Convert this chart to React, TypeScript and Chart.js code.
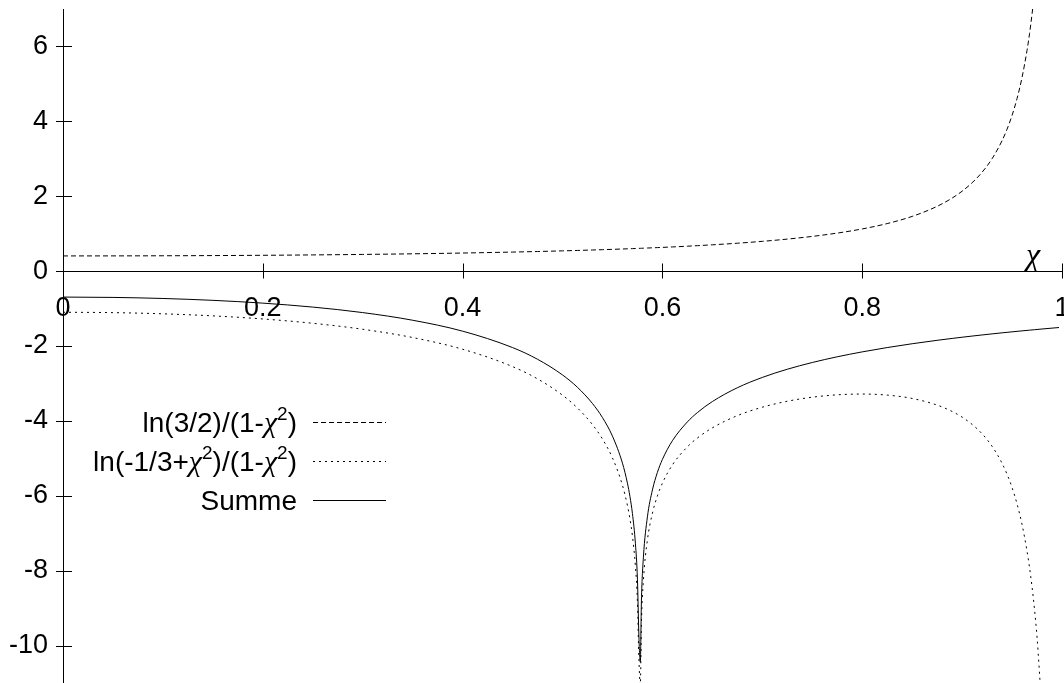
import React, { useEffect, useRef } from "react";
import { Chart, registerables } from "chart.js";

Chart.register(...registerables);

// chi values (x axis)
const xValues = [
  0, 0.05, 0.1, 0.15, 0.2, 0.25, 0.3, 0.35, 0.4, 0.45, 0.475, 0.5, 0.515, 0.53, 0.54, 0.55, 0.56,
  0.565, 0.5675, 0.57, 0.573, 0.575, 0.5765, 0.5779, 0.579, 0.581, 0.585, 0.59, 0.595, 0.6, 0.61,
  0.625, 0.635, 0.65, 0.675, 0.7, 0.725, 0.75, 0.775, 0.8, 0.825, 0.85, 0.875, 0.89, 0.9, 0.91, 0.92,
  0.93, 0.94, 0.945, 0.95, 0.955, 0.96, 0.965, 0.9675, 0.97, 0.9725, 0.975, 0.98, 0.99, 0.997,
];

// ln(3/2)/(1-chi^2)
const dashedValues = [
  0.4055, 0.4065, 0.4096, 0.4148, 0.4224, 0.4325, 0.4456, 0.4621, 0.4827, 0.5084, 0.5236, 0.5406,
  0.5518, 0.5639, 0.5724, 0.5813, 0.5907, 0.5956, 0.5981, 0.6006, 0.6037, 0.6057, 0.6073, 0.6088,
  0.6099, 0.6121, 0.6164, 0.622, 0.6277, 0.6335, 0.6457, 0.6654, 0.6794, 0.7021, 0.7448, 0.795,
  0.8547, 0.9268, 1.0152, 1.1263, 1.2696, 1.4611, 1.73, 1.9503, 2.134, 2.3587, 2.6397, 3.0012,
  3.4834, 3.7903, 4.1586, 4.6089, 5.1717, 5.8955, 6.341, 6.8607, 7.4749, 8.212, 10.239, null, null,
];

// ln(-1/3+chi^2)/(1-chi^2)
const dottedValues = [
  -1.0986, -1.1089, -1.1405, -1.1954, -1.2775, -1.3933, -1.5531, -1.774, -2.0864, -2.5503, -2.8776,
  -3.3132, -3.6564, -4.0999, -4.484, -4.988, -5.7189, -6.259, -6.6156, -7.0739, -7.8871, -8.8313,
  -10.3752, -11.0531, -9.4195, -8.2514, -7.1797, -6.4663, -6.0033, -5.663, -5.1763, -4.6927,
  -4.4586, -4.1857, -3.8601, -3.6346, -3.4756, -3.3676, -3.3037, -3.2833, -3.3114, -3.4009,
  -3.5783, -3.748, -3.8997, -4.0935, -4.3447, -4.6775, -5.1319, -5.4253, -5.7803, -6.2175, -6.7675,
  -7.4787, -7.9179, -8.4314, -9.0394, -9.7704, -11.7854, null, null,
];

// Summe
const sumValues = [
  -0.6931, -0.7024, -0.7309, -0.7806, -0.8552, -0.9608, -1.1075, -1.3119, -1.6037, -2.0418, -2.354,
  -2.7726, -3.1046, -3.536, -3.9116, -4.4067, -5.1282, -5.6634, -6.0175, -6.4733, -7.2834, -8.2255,
  -9.7679, -10.4443, -8.8096, -7.6393, -6.5632, -5.8443, -5.3757, -5.0295, -4.5305, -4.0273,
  -3.7792, -3.4836, -3.1153, -2.8395, -2.6209, -2.4408, -2.2884, -2.157, -2.0419, -1.9398, -1.8483,
  -1.7977, -1.7657, -1.7348, -1.705, -1.6763, -1.6485, -1.635, -1.6217, -1.6086, -1.5958, -1.5832,
  -1.577, -1.5707, -1.5646, -1.5585, -1.5464, -1.5228, -1.5067,
];

const xTicks = [0, 0.2, 0.4, 0.6, 0.8, 1];
const yTicks = [-10, -8, -6, -4, -2, 0, 2, 4, 6];
const legendLabels = ["ln(3/2)/(1-χ^2)", "ln(-1/3+χ^2)/(1-χ^2)", "Summe"];
const xAxisTitle = "χ";

const FONT = "'Liberation Sans', Arial, Helvetica, sans-serif";
const CHI_FAMILY = "'Liberation Serif', 'Times New Roman', serif";

type Seg = { text: string; kind: "n" | "chi" | "sup" };

function tokenize(label: string): Seg[] {
  const segs: Seg[] = [];
  let buf = "";
  const flush = () => {
    if (buf) segs.push({ text: buf, kind: "n" });
    buf = "";
  };
  for (let i = 0; i < label.length; i++) {
    const c = label[i];
    if (c === "χ") {
      flush();
      segs.push({ text: c, kind: "chi" });
    } else if (c === "^" && i + 1 < label.length) {
      flush();
      segs.push({ text: label[i + 1], kind: "sup" });
      i++;
    } else {
      buf += c;
    }
  }
  flush();
  return segs;
}

function segFont(kind: Seg["kind"]) {
  if (kind === "chi") return `italic 30px ${CHI_FAMILY}`;
  if (kind === "sup") return `19px ${FONT}`;
  return `28px ${FONT}`;
}

const decorPlugin = {
  id: "gnuplotDecor",
  afterDraw(chart: any) {
    const ctx: CanvasRenderingContext2D = chart.ctx;
    const xs = chart.scales.x;
    const ys = chart.scales.y;
    const area = chart.chartArea;
    const y0 = Math.round(ys.getPixelForValue(0)) + 0.5;
    ctx.save();
    ctx.strokeStyle = "#000";
    ctx.lineWidth = 1;
    ctx.setLineDash([]);
    ctx.beginPath();
    yTicks.forEach((v) => {
      const py = Math.round(ys.getPixelForValue(v)) + 0.5;
      ctx.moveTo(area.left - 7, py);
      ctx.lineTo(area.left + 9, py);
    });
    xTicks.forEach((v) => {
      const px = Math.round(xs.getPixelForValue(v)) + 0.5;
      ctx.moveTo(px, y0 - 8);
      ctx.lineTo(px, y0 + 7);
    });
    ctx.stroke();

    // axis title chi
    ctx.fillStyle = "#000";
    ctx.font = `italic 32px ${CHI_FAMILY}`;
    ctx.textAlign = "center";
    ctx.textBaseline = "alphabetic";
    ctx.fillText(xAxisTitle, area.right - 29, y0 - 7);

    // legend
    const rightX = 297;
    const rowY = [422, 461, 500];
    chart.data.datasets.forEach((ds: any, i: number) => {
      const y = rowY[i];
      const segs = tokenize(legendLabels[i]);
      const widths = segs.map((s) => {
        ctx.font = segFont(s.kind);
        return ctx.measureText(s.text).width;
      });
      const total = widths.reduce((a, b) => a + b, 0);
      let x = rightX - total;
      ctx.textAlign = "left";
      ctx.textBaseline = "alphabetic";
      const base = y + 10;
      segs.forEach((s, k) => {
        ctx.font = segFont(s.kind);
        ctx.fillText(s.text, x, s.kind === "sup" ? base - 12 : base);
        x += widths[k];
      });
      ctx.beginPath();
      ctx.setLineDash(ds.borderDash || []);
      ctx.moveTo(313, y + 0.5);
      ctx.lineTo(386, y + 0.5);
      ctx.stroke();
    });
    ctx.restore();
  },
};

export default function App() {
  const ref = useRef<HTMLCanvasElement | null>(null);
  useEffect(() => {
    document.body.style.margin = "0";
    const canvas = ref.current;
    if (!canvas) return;
    const mk = (vals: (number | null)[]) => xValues.map((x, i) => ({ x, y: vals[i] }));
    const common = {
      borderColor: "#000",
      borderWidth: 1,
      pointRadius: 0,
      cubicInterpolationMode: "monotone" as const,
      spanGaps: false,
    };
    const chart = new Chart(canvas, {
      type: "line",
      data: {
        datasets: [
          { ...common, label: legendLabels[0], data: mk(dashedValues), borderDash: [5, 3] },
          { ...common, label: legendLabels[1], data: mk(dottedValues), borderDash: [2, 4] },
          { ...common, label: legendLabels[2], data: mk(sumValues) },
        ],
      },
      options: {
        animation: false,
        responsive: false,
        devicePixelRatio: 1,
        layout: { padding: { top: 9, right: 2, left: 0, bottom: 0 } },
        plugins: { legend: { display: false }, tooltip: { enabled: false } },
        scales: {
          x: {
            type: "linear",
            position: { y: 0 } as any,
            min: 0,
            max: 1,
            afterBuildTicks: (s: any) => {
              s.ticks = xTicks.map((v) => ({ value: v }));
            },
            afterFit: (s: any) => {
              s.paddingLeft = 0;
              s.paddingRight = 0;
            },
            grid: { display: true, drawOnChartArea: false, drawTicks: false },
            border: { display: true, color: "#000", width: 1 },
            ticks: {
              color: "#000",
              padding: 21,
              maxRotation: 0,
              autoSkip: false,
              font: { family: FONT, size: 27 },
              callback: (v: any) => String(v),
            },
          },
          y: {
            type: "linear",
            min: -11,
            max: 7,
            afterBuildTicks: (s: any) => {
              s.ticks = yTicks.map((v) => ({ value: v }));
            },
            afterFit: (s: any) => {
              s.width = 63;
              s.paddingTop = 0;
              s.paddingBottom = 0;
            },
            grid: { display: true, drawOnChartArea: false, drawTicks: false },
            border: { display: true, color: "#000", width: 1 },
            ticks: {
              color: "#000",
              padding: 15,
              autoSkip: false,
              font: { family: FONT, size: 27 },
              callback: (v: any) => String(v),
            },
          },
        },
      },
      plugins: [decorPlugin],
    });
    return () => chart.destroy();
  }, []);
  return <canvas ref={ref} width={1064} height={683} style={{ display: "block" }} />;
}
